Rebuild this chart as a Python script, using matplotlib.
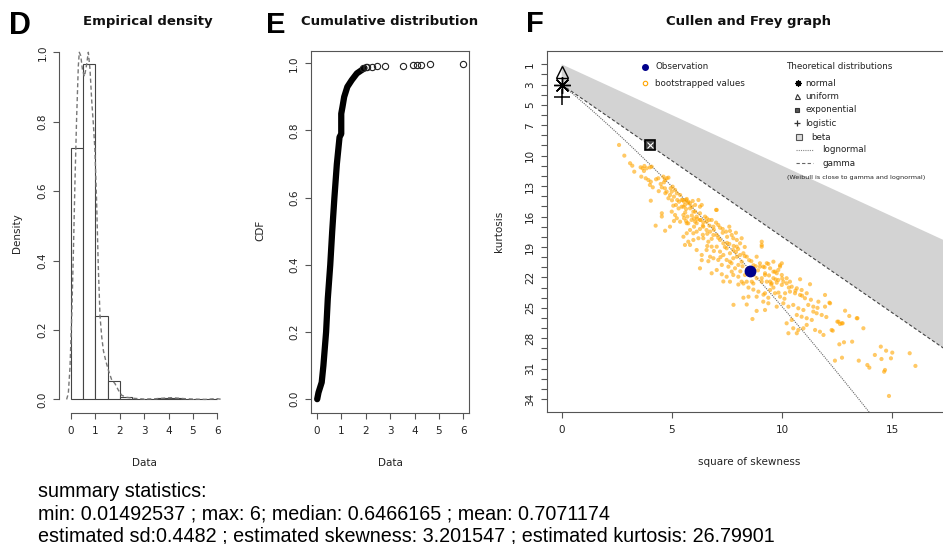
import numpy as np
import matplotlib
matplotlib.use("Agg")
import matplotlib.pyplot as plt
from matplotlib.lines import Line2D

# ---------------- data ----------------
# Panel D: histogram (bin width 0.5) and density estimate
hist_edges = [0.0, 0.5, 1.0, 1.5, 2.0, 2.5, 3.0, 3.5, 4.0, 4.5, 5.0, 5.5, 6.0]
hist_density = [0.725, 0.965, 0.24, 0.052, 0.008, 0.002, 0.0, 0.004, 0.004, 0.002, 0.0, 0.002]
kde_x = [-0.18, -0.11, -0.04, 0.03, 0.10, 0.16, 0.23, 0.30, 0.34, 0.40, 0.47, 0.55, 0.63, 0.71,
         0.78, 0.85, 0.92, 0.98, 1.05, 1.12, 1.19, 1.26, 1.33, 1.43, 1.53, 1.67, 1.80, 1.94,
         2.08, 2.28, 2.6, 3.0, 3.5, 3.9, 4.1, 4.3, 4.7, 5.0, 5.5, 5.9, 6.0, 6.2]
kde_y = [0.0, 0.017, 0.094, 0.24, 0.43, 0.62, 0.81, 0.96, 1.0, 0.99, 0.95, 0.93, 0.96, 1.0,
         0.95, 0.86, 0.79, 0.72, 0.57, 0.38, 0.24, 0.18, 0.14, 0.11, 0.085, 0.056, 0.046, 0.027,
         0.012, 0.006, 0.003, 0.001, 0.002, 0.004, 0.005, 0.004, 0.002, 0.001, 0.0, 0.002, 0.002, 0.0]

# Panel E: empirical CDF (dense body) and isolated upper-tail observations
cdf_x = [0.015, 0.07, 0.2, 0.27, 0.38, 0.45, 0.55, 0.63, 0.72, 0.82, 0.93, 1.0, 1.0, 1.05,
         1.12, 1.25, 1.43, 1.64, 1.84, 1.95]
cdf_p = [0.0, 0.02, 0.05, 0.1, 0.2, 0.3, 0.4, 0.5, 0.6, 0.7, 0.78, 0.79, 0.85, 0.87,
         0.9, 0.93, 0.95, 0.97, 0.98, 0.986]
tail_x = [1.9, 2.0, 2.05, 2.25, 2.48, 2.79, 3.54, 3.95, 4.09, 4.26, 4.64, 6.0]
tail_p = [0.987, 0.988, 0.989, 0.990, 0.991, 0.992, 0.993, 0.994, 0.995, 0.996, 0.998, 0.999]

# Panel F: Cullen and Frey graph
obs_point = (8.54, 21.33)
theo_normal = (0.0, 3.0)
theo_uniform = (0.0, 1.8)
theo_logistic = (0.0, 4.2)
theo_exponential = (4.0, 9.0)
boot_values = [
    (2.60, 8.95), (2.84, 10.0), (3.10, 10.75), (3.20, 10.99), (3.29, 11.58), (3.58, 11.15), (3.67, 11.25),
    (3.75, 11.02), (3.85, 11.25), (4.00, 11.15), (4.08, 11.09), (3.73, 11.51), (3.61, 12.07), (3.81, 12.23),
    (3.93, 12.40), (4.04, 12.57), (4.00, 12.89), (4.13, 13.12), (4.28, 12.33), (4.38, 12.23), (4.49, 12.79),
    (4.61, 12.07), (4.68, 12.40), (4.76, 12.23), (4.84, 12.17), (4.64, 12.63), (4.54, 13.12), (4.68, 13.22),
    (4.76, 13.55), (4.94, 13.22), (5.03, 13.06), (5.14, 13.38), (4.99, 13.55), (4.91, 13.88), (4.84, 14.20),
    (5.09, 14.04), (5.22, 13.71), (5.37, 13.88), (5.24, 14.37), (5.32, 14.54), (5.49, 14.37), (5.64, 14.37),
    (5.74, 14.54), (5.82, 14.69), (5.59, 14.86), (5.44, 15.03), (5.18, 14.86), (5.06, 14.93), (4.99, 15.52),
    (5.14, 15.85), (5.22, 16.17), (5.09, 16.44), (5.52, 15.85), (5.70, 16.01), (5.90, 15.03), (6.05, 14.86),
    (6.20, 14.37), (6.27, 15.03), (5.97, 15.52), (6.12, 16.01), (6.27, 16.34), (6.42, 16.57), (6.58, 16.17),
    (6.69, 16.34), (7.00, 15.35), (4.04, 14.44), (4.54, 15.68), (5.37, 16.51), (5.67, 16.66), (6.12, 16.66),
    (5.44, 14.37), (5.55, 14.54), (5.67, 14.27), (5.74, 14.69), (5.94, 14.47), (5.52, 15.03), (5.64, 15.26),
    (5.82, 15.19), (6.05, 15.52), (6.35, 14.86), (6.27, 15.68), (5.55, 16.17), (5.64, 16.44), (5.74, 16.67),
    (5.89, 16.34), (6.05, 16.51), (6.15, 16.24), (6.30, 16.34), (6.50, 16.01), (6.57, 16.51), (6.80, 16.34),
    (7.03, 15.35), (6.88, 17.0), (7.10, 16.83), (7.18, 17.1), (7.30, 17.23), (7.45, 17.49), (7.63, 17.42),
    (7.71, 17.82), (7.78, 18.14), (7.94, 18.31), (8.16, 18.14), (8.09, 18.64), (7.94, 18.97), (7.78, 19.30),
    (7.63, 19.62), (7.48, 19.13), (7.33, 18.64), (7.18, 18.31), (7.03, 17.82), (6.88, 17.82), (6.73, 17.49),
    (6.57, 17.33), (6.42, 17.0), (6.27, 17.23), (6.12, 17.49), (5.97, 17.65), (5.82, 17.33), (5.67, 17.65),
    (5.52, 17.99), (5.74, 18.48), (5.97, 18.31), (6.20, 18.14), (6.42, 18.14), (6.65, 18.48), (6.80, 18.97),
    (7.03, 18.97), (7.18, 19.46), (7.33, 19.79), (7.48, 20.28), (7.63, 20.45), (7.78, 20.11), (7.94, 19.96),
    (8.09, 19.79), (8.24, 19.62), (8.39, 19.96), (8.16, 20.45), (8.01, 20.77), (7.86, 21.1), (7.71, 21.43),
    (7.56, 20.94), (7.26, 20.77), (7.10, 20.28), (6.88, 20.11), (6.73, 19.96), (6.35, 19.79), (6.57, 19.30),
    (6.27, 21.1), (6.80, 21.59), (7.03, 21.27), (7.26, 21.69), (7.48, 21.93), (7.78, 21.76), (8.01, 21.93),
    (7.63, 22.42), (8.84, 19.96), (9.07, 18.97), (8.99, 20.94), (9.22, 21.59), (9.30, 20.6), (9.45, 21.1),
    (9.60, 21.43), (9.75, 21.59), (9.90, 20.94), (9.98, 21.76), (10.20, 22.08), (10.35, 22.42), (10.05, 22.42),
    (9.82, 22.25), (9.60, 22.08), (9.45, 22.42), (9.07, 22.42), (8.84, 22.08), (8.69, 21.76), (8.62, 22.42),
    (8.39, 22.42), (8.16, 22.42), (8.31, 21.76),
    (9.07, 18.48), (8.99, 20.61), (9.14, 20.94), (9.37, 20.67), (9.60, 20.45), (9.98, 20.61), (9.82, 21.27),
    (9.67, 21.43), (9.22, 21.76), (9.07, 22.08), (9.30, 22.42), (9.52, 22.58), (9.75, 22.52), (9.98, 22.74),
    (10.20, 22.58), (10.43, 22.91), (10.66, 23.07), (10.81, 22.18), (11.26, 22.67), (10.88, 23.24),
    (11.11, 23.56), (11.03, 24.05), (10.81, 23.73), (10.58, 23.56), (10.35, 23.40), (10.13, 23.56),
    (9.90, 23.90), (9.67, 23.56), (9.45, 23.24), (9.22, 23.56), (9.14, 24.39), (9.37, 24.55), (9.22, 25.21),
    (9.75, 24.88), (10.05, 24.55), (10.28, 24.88), (10.50, 24.71), (10.73, 25.04), (10.96, 25.21),
    (11.18, 24.71), (11.41, 24.88), (11.64, 24.39), (11.94, 23.73), (12.14, 24.49), (11.94, 24.88),
    (11.56, 25.53), (11.79, 25.70), (11.41, 25.37), (11.11, 26.02), (10.88, 25.87), (10.66, 25.70),
    (10.43, 26.19), (10.20, 26.52), (10.50, 27.01), (10.73, 27.18), (10.96, 27.01), (11.11, 26.68),
    (11.34, 26.19), (11.49, 27.18), (11.71, 27.35), (11.87, 27.67), (10.66, 27.50), (10.28, 27.50),
    (12.55, 26.36), (12.70, 26.52), (12.85, 25.28), (13.04, 25.80), (13.38, 26.02), (13.68, 27.01),
    (12.24, 27.18),
    (12.17, 24.55), (13.41, 26.02), (12.50, 26.36), (12.62, 26.59), (12.74, 26.52), (12.29, 27.25),
    (12.59, 28.59), (12.80, 28.39), (13.17, 28.33), (12.39, 30.20), (12.71, 29.91), (13.47, 30.20),
    (13.86, 30.63), (13.95, 30.89), (14.20, 29.64), (14.47, 28.82), (14.71, 29.22), (14.99, 29.41),
    (14.50, 30.04), (14.93, 29.97), (14.62, 31.29), (14.66, 31.12), (15.78, 29.47), (16.04, 30.72),
    (14.84, 33.68),
    (4.26, 16.9), (4.54, 16.0), (4.69, 17.4), (4.91, 17.0), (5.59, 18.8), (5.82, 18.8), (6.12, 19.3),
    (6.35, 20.3), (6.65, 20.4), (8.01, 22.7), (8.24, 22.6), (8.47, 23.0), (8.69, 23.2), (8.92, 23.4),
    (9.15, 23.7), (9.37, 24.0), (8.84, 23.9), (8.47, 23.9), (8.24, 24.0), (8.69, 22.6), (9.6, 23.0),
    (9.83, 23.5), (7.79, 24.7), (8.39, 24.67), (8.65, 26.1), (8.84, 25.3), (9.07, 18.8), (9.9, 20.8),
    (7.4, 19.0), (7.6, 18.7), (7.9, 19.5), (8.2, 20.9), (8.4, 21.2), (8.7, 20.8), (8.9, 21.3), (7.2, 20.0),
    (6.9, 19.4), (6.6, 18.9), (8.3, 19.0), (8.5, 20.3), (6.0, 17.0), (6.4, 17.8), (6.8, 18.2), (7.5, 18.0),
    (7.3, 17.6), (5.9, 15.9), (6.7, 16.9), (7.0, 16.6), (7.6, 17.0), (7.9, 17.6), (7.33, 22.4),
    (5.3, 15.2), (5.6, 15.6), (6.0, 16.2), (6.4, 16.9), (6.9, 17.3), (7.1, 18.1), (7.5, 18.6), (7.8, 18.9),
    (8.0, 19.2), (8.3, 19.9), (8.6, 20.4), (8.8, 20.9), (9.2, 21.0), (9.4, 21.8), (9.7, 22.2), (10.0, 22.1),
    (10.3, 23.0), (10.6, 23.3), (10.9, 23.8), (11.3, 24.2), (5.0, 14.4), (4.7, 13.7), (4.4, 13.5),
    (6.6, 17.7), (7.7, 20.6), (8.1, 21.4), (9.5, 22.7), (10.1, 24.1), (11.6, 25.0), (12.0, 25.9),
]
boot_sq_skew = [p[0] for p in boot_values]
boot_kurt = [p[1] for p in boot_values]

kurt_ticks = list(range(1, 35))
kurt_labels = [1, 3, 5, 7, 10, 13, 16, 19, 22, 25, 28, 31, 34]

summary_lines = [
    "summary statistics:",
    "min: 0.01492537 ; max: 6; median: 0.6466165 ; mean: 0.7071174",
    "estimated sd:0.4482 ; estimated skewness: 3.201547 ; estimated kurtosis: 26.79901",
]

# ---------------- figure ----------------
W, H = 943, 544
fig = plt.figure(figsize=(W / 100, H / 100), dpi=100)
plt.rcParams['font.family'] = ['DejaVu Sans']

def fx(px):
    return px / W

def fy(py):
    return 1 - py / H

def axes_px(x0, y0, x1, y1):
    return fig.add_axes([fx(x0), fy(y1), fx(x1) - fx(x0), (y1 - y0) / H])

TXT = '#222222'
SPINE = '#555555'
TICKFS = 7.5
LABFS = 7.5

def style_ticks(ax):
    ax.tick_params(axis='both', colors=SPINE, labelcolor=TXT, labelsize=TICKFS,
                   length=4.5, width=0.8, direction='out')
    ax.tick_params(axis='x', pad=5)
    ax.tick_params(axis='y', pad=4)
    for lab in ax.get_yticklabels():
        lab.set_rotation(90)
        lab.set_va('center')

# ---- Panel D ----
axD = axes_px(59.3, 38.4, 229.0, 413.3)
axD.bar(hist_edges[:-1], hist_density, width=np.diff(hist_edges), align='edge',
        facecolor='white', edgecolor='#444444', linewidth=0.8)
axD.plot(kde_x, kde_y, color='#777777', linestyle=(0, (3, 2)), linewidth=1.0)
axD.set_xlim(-0.48, 6.48)
axD.set_ylim(-0.04, 1.04)
axD.set_xticks(range(0, 7))
axD.set_yticks([0.0, 0.2, 0.4, 0.6, 0.8, 1.0])
axD.set_yticklabels(['0.0', '0.2', '0.4', '0.6', '0.8', '1.0'])
for s in ['top', 'right']:
    axD.spines[s].set_visible(False)
axD.spines['left'].set_bounds(0, 1)
axD.spines['bottom'].set_bounds(0, 6)
for s in ['left', 'bottom']:
    axD.spines[s].set_color(SPINE)
    axD.spines[s].set_linewidth(0.8)
style_ticks(axD)

# ---- Panel E ----
axE = axes_px(310.7, 50.7, 469.3, 413.3)
axE.plot(cdf_x, cdf_p, color='black', linewidth=4.5, solid_capstyle='round', solid_joinstyle='round')
axE.plot(tail_x, tail_p, linestyle='none', marker='o', markersize=4.5, markerfacecolor='none',
         markeredgecolor='#222222', markeredgewidth=0.8)
axE.set_xlim(-0.25, 6.24)
axE.set_ylim(-0.042, 1.0375)
axE.set_xticks(range(0, 7))
axE.set_yticks([0.0, 0.2, 0.4, 0.6, 0.8, 1.0])
axE.set_yticklabels(['0.0', '0.2', '0.4', '0.6', '0.8', '1.0'])
for s in axE.spines.values():
    s.set_color(SPINE)
    s.set_linewidth(0.8)
style_ticks(axE)

# ---- Panel F ----
axF = axes_px(546.7, 51.0, 951.6, 412.3)
xmax_plot = 18.5
sk = np.array([0.0, xmax_plot])
axF.fill_between(sk, sk + 1, 3 + 1.5 * sk, facecolor='#D3D3D3', edgecolor='none', zorder=1)
axF.plot(sk, 3 + 1.5 * sk, color='#444444', linestyle=(0, (3, 2)), linewidth=0.8, zorder=2)
w = np.linspace(1.0, 1.97, 200)
ln_sk2 = (w + 2) ** 2 * (w - 1)
ln_kurt = w ** 4 + 2 * w ** 3 + 3 * w ** 2 - 3
axF.plot(ln_sk2, ln_kurt, color='#666666', linestyle=(0, (1, 1)), linewidth=0.8, zorder=2)
axF.scatter(boot_sq_skew, boot_kurt, s=9, color='#FFA500', alpha=0.6, edgecolors='none', zorder=3)
axF.plot(*obs_point, marker='o', markersize=7.5, color='#00008B', zorder=5)
axF.plot(*theo_uniform, marker='^', markersize=8, markerfacecolor='none', markeredgecolor='black',
         markeredgewidth=1.0, zorder=5, clip_on=False)
axF.plot(*theo_normal, marker=(8, 2, 0), markersize=12, color='black', markeredgewidth=1.0, zorder=5,
         clip_on=False)
axF.plot(*theo_logistic, marker='+', markersize=11, color='black', markeredgewidth=1.1, zorder=5,
         clip_on=False)
axF.plot(*theo_exponential, marker='s', markersize=7, markerfacecolor='#444444', markeredgecolor='black',
         markeredgewidth=1.2, zorder=5)
axF.plot(*theo_exponential, marker='x', markersize=5, color='white', markeredgewidth=0.8, zorder=6)
axF.set_xlim(-0.68, 17.68)
axF.set_ylim(35.29, -0.31)
axF.set_xticks([0, 5, 10, 15])
axF.set_yticks(kurt_ticks)
axF.set_yticklabels([str(k) if k in kurt_labels else '' for k in kurt_ticks])
for s in axF.spines.values():
    s.set_color(SPINE)
    s.set_linewidth(0.8)
style_ticks(axF)

# ---- legends for F (figure coordinates) ----
def fig_marker(px, py, **kw):
    fig.add_artist(Line2D([fx(px)], [fy(py)], transform=fig.transFigure, linestyle='none', **kw))

def fig_line(px0, px1, py, **kw):
    fig.add_artist(Line2D([fx(px0), fx(px1)], [fy(py), fy(py)], transform=fig.transFigure, **kw))

LEGFS = 6.3
fig_marker(645, 66.5, marker='o', markersize=4, color='#00008B')
fig.text(fx(655), fy(66.5), 'Observation', fontsize=LEGFS, color=TXT, va='center')
fig_marker(645, 83.3, marker='o', markersize=3.2, markerfacecolor='none', markeredgecolor='#FFA500',
           markeredgewidth=0.8)
fig.text(fx(655), fy(83.3), 'bootstrapped values', fontsize=LEGFS, color=TXT, va='center')

fig.text(fx(786.5), fy(66.5), 'Theoretical distributions', fontsize=LEGFS, color=TXT, va='center')
fig_marker(798, 83.3, marker=(8, 2, 0), markersize=4.5, color='black', markeredgewidth=0.9)
fig.text(fx(805), fy(83.3), 'normal', fontsize=LEGFS, color=TXT, va='center')
fig_marker(797, 96.3, marker='^', markersize=3.6, markerfacecolor='none', markeredgecolor='#333333',
           markeredgewidth=0.8)
fig.text(fx(805), fy(96.3), 'uniform', fontsize=LEGFS, color=TXT, va='center')
fig_marker(797, 110, marker='s', markersize=3.4, markerfacecolor='#555555', markeredgecolor='#333333',
           markeredgewidth=0.8)
fig.text(fx(805), fy(110), 'exponential', fontsize=LEGFS, color=TXT, va='center')
fig_marker(797, 123.3, marker='+', markersize=5, color='#333333', markeredgewidth=0.9)
fig.text(fx(805), fy(123.3), 'logistic', fontsize=LEGFS, color=TXT, va='center')
fig_marker(799, 137, marker='s', markersize=5, markerfacecolor='#DDDDDD', markeredgecolor='#555555',
           markeredgewidth=0.8)
fig.text(fx(811.7), fy(137), 'beta', fontsize=LEGFS, color=TXT, va='center')
fig_line(795.7, 813.3, 149.5, color='#888888', linestyle=(0, (1, 1)), linewidth=0.8)
fig.text(fx(822.5), fy(149.5), 'lognormal', fontsize=LEGFS, color=TXT, va='center')
fig_line(795.7, 813.3, 163.3, color='#666666', linestyle=(0, (3, 2)), linewidth=0.8)
fig.text(fx(822.5), fy(163.3), 'gamma', fontsize=LEGFS, color=TXT, va='center')
fig.text(fx(787), fy(177.5), '(Weibull is close to gamma and lognormal)', fontsize=4.6, color=TXT,
         va='center')

# ---- titles, axis labels, panel letters ----
fig.text(fx(148.3), fy(21.5), 'Empirical density', fontsize=9.5, fontweight='bold', ha='center',
         va='center', color='#111111')
fig.text(fx(389.7), fy(21.5), 'Cumulative distribution', fontsize=9.5, fontweight='bold', ha='center',
         va='center', color='#111111')
fig.text(fx(749), fy(21.5), 'Cullen and Frey graph', fontsize=9.5, fontweight='bold', ha='center',
         va='center', color='#111111')

fig.text(fx(16.7), fy(233), 'Density', fontsize=LABFS, rotation=90, ha='center', va='center', color=TXT)
fig.text(fx(260), fy(230), 'CDF', fontsize=LABFS, rotation=90, ha='center', va='center', color=TXT)
fig.text(fx(499.3), fy(231.7), 'kurtosis', fontsize=LABFS, rotation=90, ha='center', va='center', color=TXT)
fig.text(fx(144), fy(463), 'Data', fontsize=LABFS, ha='center', va='center', color=TXT)
fig.text(fx(390), fy(463), 'Data', fontsize=LABFS, ha='center', va='center', color=TXT)
fig.text(fx(749.3), fy(462.3), 'square of skewness', fontsize=LABFS, ha='center', va='center', color=TXT)

LETTERFONT = ['Liberation Sans', 'DejaVu Sans']
fig.text(fx(9), fy(34.5), 'D', fontsize=22, fontweight='bold', family=LETTERFONT, color='black',
         ha='left', va='baseline')
fig.text(fx(265.5), fy(33.3), 'E', fontsize=21, fontweight='bold', family=LETTERFONT, color='black',
         ha='left', va='baseline')
fig.text(fx(526.5), fy(32.3), 'F', fontsize=21, fontweight='bold', family=LETTERFONT, color='black',
         ha='left', va='baseline')

# ---- summary text ----
for i, line in enumerate(summary_lines):
    fig.text(fx(38), fy(497 + 22 * i), line, fontsize=14.2, family=['Liberation Sans', 'DejaVu Sans'],
             color='black', ha='left', va='baseline')

fig.savefig('out.png', dpi=100, facecolor='white')
